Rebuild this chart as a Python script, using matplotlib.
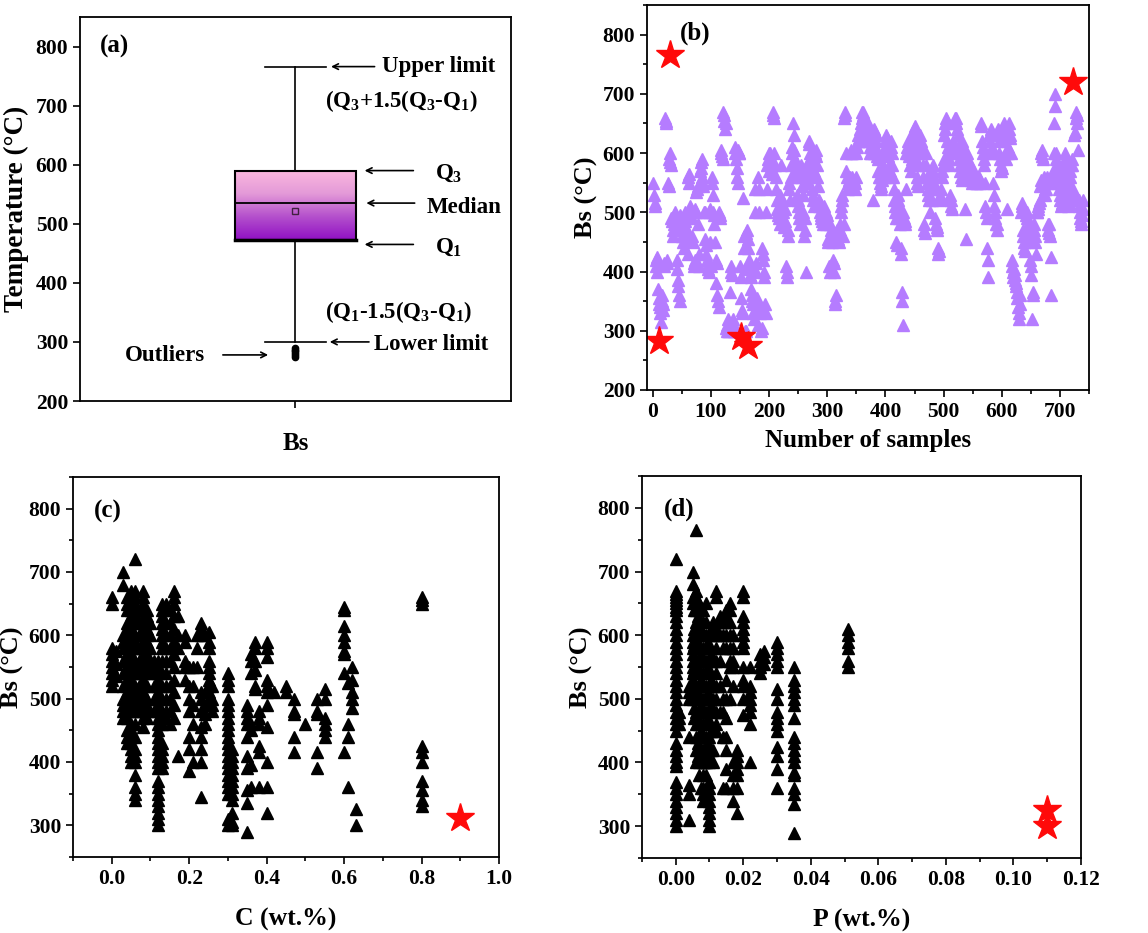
import numpy as np
import matplotlib
matplotlib.use("Agg")
import matplotlib.pyplot as plt
from matplotlib.colors import LinearSegmentedColormap
from matplotlib.ticker import MultipleLocator

plt.rcParams['font.family'] = ['Liberation Serif', 'DejaVu Serif']
plt.rcParams['font.weight'] = 'bold'
plt.rcParams['axes.labelweight'] = 'bold'
plt.rcParams['mathtext.fontset'] = 'custom'
plt.rcParams['mathtext.rm'] = 'Liberation Serif:bold'
plt.rcParams['mathtext.bf'] = 'Liberation Serif:bold'
plt.rcParams['mathtext.it'] = 'Liberation Serif:bold'

# (a) box plot statistics of Bs
box_q1 = 473
box_med = 535
box_q3 = 590
box_mean = 522
box_low = 300
box_high = 766
box_outliers = [290, 287, 284, 281, 278, 275]

# (b) Bs of every sample, in sample order
b_y = [
    550, 530, 515, 510, 420, 410, 425, 400, 370, 355, 345, 340, 330, 315, 360, 350, 335, 345, 410, 415,
    660, 655, 650, 415, 420, 550, 545, 590, 585, 600, 580, 490, 485, 470, 460, 480, 495, 500, 480, 470,
    420, 405, 385, 375, 360, 350, 495, 490, 480, 470, 460, 450, 440, 480, 485, 500, 490, 470, 455, 430,
    560, 550, 565, 510, 500, 505, 490, 460, 450, 415, 410, 420, 505, 500, 535, 540, 545, 480, 430, 410,
    570, 575, 585, 590, 560, 550, 545, 500, 500, 455, 445, 430, 420, 410, 405, 400, 500, 505, 450, 410,
    560, 550, 530, 500, 495, 480, 450, 420, 380, 415, 360, 350, 340, 500, 495, 490, 600, 605, 595, 590,
    670, 665, 655, 640, 650, 305, 300, 310, 300, 320, 300, 305, 365, 410, 400, 395, 320, 305, 300, 310,
    610, 600, 590, 575, 560, 550, 605, 600, 600, 410, 390, 355, 335, 330, 525, 460, 440, 405, 300, 300,
    465, 470, 455, 440, 420, 410, 395, 390, 370, 360, 350, 345, 330, 320, 540, 500, 415, 400, 355, 310,
    560, 540, 500, 340, 330, 300, 305, 440, 430, 420, 400, 390, 345, 330, 500, 540, 580, 590, 600, 570,
    600, 590, 580, 575, 565, 670, 665, 660, 600, 580, 560, 540, 520, 505, 495, 500, 490, 480, 530, 510,
    580, 520, 500, 490, 480, 475, 485, 505, 410, 400, 390, 470, 460, 550, 540, 520, 580, 560, 600, 610,
    650, 630, 605, 590, 570, 560, 580, 530, 520, 510, 500, 490, 480, 570, 580, 560, 545, 530, 500, 460,
    490, 470, 400, 560, 575, 585, 550, 620, 615, 600, 590, 580, 560, 540, 530, 520, 510, 570, 600, 605,
    595, 580, 560, 545, 520, 510, 515, 500, 495, 490, 485, 480, 505, 510, 500, 490, 480, 500, 495, 485,
    450, 455, 410, 400, 480, 470, 460, 450, 460, 420, 415, 400, 350, 345, 360, 470, 460, 455, 465, 450,
    480, 470, 500, 510, 520, 530, 460, 480, 660, 665, 670, 600, 570, 560, 550, 540, 545, 555, 560, 600,
    605, 600, 560, 550, 545, 555, 540, 550, 560, 600, 610, 620, 630, 620, 625, 630, 640, 650, 660, 670,
    670, 665, 655, 640, 630, 620, 625, 635, 645, 650, 640, 620, 610, 600, 600, 610, 620, 630, 520, 600,
    640, 635, 630, 620, 605, 595, 590, 570, 560, 550, 560, 540, 545, 555, 570, 580, 560, 600, 610, 620,
    630, 625, 615, 605, 595, 580, 570, 560, 620, 610, 600, 580, 560, 540, 520, 510, 500, 490, 450, 445,
    530, 520, 510, 490, 480, 440, 430, 365, 350, 310, 500, 490, 480, 485, 540, 600, 610, 620, 600, 595,
    600, 605, 580, 570, 590, 610, 620, 630, 640, 645, 600, 590, 580, 560, 550, 545, 600, 610, 620, 630,
    620, 610, 600, 580, 560, 480, 470, 465, 600, 580, 560, 550, 540, 530, 520, 500, 560, 570, 540, 520,
    580, 570, 560, 550, 540, 490, 480, 470, 475, 440, 430, 435, 530, 520, 525, 540, 560, 570, 580, 590,
    630, 640, 650, 660, 655, 620, 610, 600, 590, 580, 530, 520, 510, 505, 600, 610, 620, 650, 660, 655,
    660, 650, 640, 630, 610, 600, 590, 580, 570, 560, 555, 620, 610, 600, 590, 580, 505, 455, 560, 570,
    600, 590, 585, 575, 570, 560, 555, 560, 550, 555, 565, 570, 560, 555, 550, 560, 555, 550, 560, 555,
    560, 555, 550, 650, 645, 620, 610, 600, 590, 580, 550, 510, 500, 490, 440, 420, 390, 630, 620, 600,
    640, 635, 610, 600, 550, 530, 510, 500, 490, 480, 470, 480, 640, 630, 620, 600, 590, 580, 570, 575,
    630, 640, 650, 645, 635, 620, 600, 590, 505, 600, 610, 650, 640, 630, 625, 600, 420, 410, 400, 390,
    405, 395, 385, 380, 375, 365, 355, 340, 320, 330, 345, 360, 500, 510, 515, 470, 460, 450, 440, 435,
    500, 495, 500, 490, 480, 470, 460, 450, 420, 410, 395, 320, 360, 365, 480, 470, 460, 450, 430, 500,
    500, 505, 510, 515, 520, 545, 555, 600, 605, 595, 590, 560, 550, 540, 530, 540, 550, 560, 480, 470,
    480, 465, 460, 425, 360, 550, 560, 570, 600, 650, 680, 700, 600, 590, 580, 570, 560, 550, 540, 530,
    520, 510, 515, 550, 560, 570, 580, 590, 600, 560, 540, 530, 520, 510, 515, 550, 560, 570, 580, 590,
    580, 540, 535, 520, 630, 635, 660, 670, 665, 650, 605, 520, 510, 500, 490, 480, 485, 495, 505, 520,
]
b_x = np.arange(1, len(b_y) + 1)
b_star_x = [10, 30, 152, 163, 722]
b_star_y = [282, 766, 290, 275, 720]

# (c) Bs grouped by C content (wt.%)
c_groups = [
    (0.00, [660, 650, 580, 570, 560, 550, 540, 530, 520]),
    (0.01, [575, 555, 535]),
    (0.03, [700, 680, 600, 590, 580, 560, 540, 520, 500, 490, 480, 470]),
    (0.04, [660, 650, 640, 620, 610, 600, 590, 580, 570, 560, 550, 540, 530, 520, 510, 500, 490, 480, 470, 450, 440, 430]),
    (0.05, [670, 660, 650, 640, 630, 620, 610, 600, 590, 580, 570, 560, 550, 540, 530, 520, 510, 500, 490, 480, 460, 450, 440, 430, 420, 410, 400]),
    (0.06, [720, 670, 660, 650, 640, 630, 620, 600, 590, 580, 560, 550, 540, 520, 510, 500, 490, 480, 460, 440, 420, 410, 400, 380, 360, 350, 340]),
    (0.07, [640, 620, 600, 580, 560, 540, 520, 500, 490, 480]),
    (0.08, [670, 660, 650, 640, 630, 620, 610, 600, 590, 580, 570, 560, 550, 540, 530, 520, 510, 500, 490, 480, 470, 455]),
    (0.09, [640, 630, 620, 610, 600, 590, 580, 570, 560, 550, 540, 520, 500, 490, 480, 470]),
    (0.10, [620, 600, 580, 560, 550]),
    (0.11, [560, 540, 520, 500, 480]),
    (0.12, [560, 550, 540, 530, 520, 510, 500, 490, 480, 470, 460, 450, 440, 430, 420, 410, 400, 390, 370, 360, 350, 340, 330, 320, 310, 300]),
    (0.13, [650, 640, 630, 620, 610, 600, 590, 580, 560, 540, 520, 500, 480, 470, 460, 430, 420, 410, 400, 390]),
    (0.14, [650, 640, 620, 600, 580, 560, 540, 520, 500, 480, 470]),
    (0.15, [640, 620, 600, 580, 560, 520, 500, 480, 460]),
    (0.16, [670, 660, 650, 630, 610, 590, 570, 550, 530, 510, 490, 470]),
    (0.17, [630, 600, 580, 410]),
    (0.19, [600, 590, 560, 550, 530]),
    (0.20, [550, 520, 500, 480, 440, 420, 385]),
    (0.21, [550, 520, 490, 460, 400]),
    (0.22, [600, 580, 550]),
    (0.23, [620, 610, 600, 510, 500, 480, 455, 440, 420, 400, 345]),
    (0.24, [600, 510, 490, 475, 460]),
    (0.25, [605, 590, 580, 560, 550, 540, 530, 520, 510, 500, 490]),
    (0.26, [520, 500, 490, 480]),
    (0.30, [540, 530, 520, 500, 490, 480, 470, 460, 450, 440, 430, 420, 410, 400, 390, 380, 370, 360, 350, 310, 300]),
    (0.31, [420, 410, 400, 390, 380, 370, 360, 350, 340, 320, 305, 300]),
    (0.35, [490, 480, 470, 460, 440, 410, 390, 355, 335, 290]),
    (0.36, [570, 560, 540, 460, 450, 395, 360]),
    (0.37, [590, 580, 560, 545, 520, 515]),
    (0.38, [480, 470, 460, 425, 415, 360]),
    (0.40, [590, 580, 565, 530, 520, 510, 490, 455, 400, 360, 320]),
    (0.42, [510]),
    (0.45, [520, 510]),
    (0.47, [500, 480, 475, 440, 415]),
    (0.50, [460]),
    (0.53, [500, 480, 475, 415, 390]),
    (0.55, [515, 500, 470, 460, 450, 440]),
    (0.60, [645, 640, 615, 600, 590, 575, 570, 540, 415]),
    (0.61, [525, 460, 440, 360]),
    (0.62, [550, 530, 510, 500, 485]),
    (0.63, [325, 300]),
    (0.80, [660, 655, 650, 425, 415, 400, 370, 355, 340, 330]),
]
c_star_x = [0.90]
c_star_y = [312]

# (d) Bs grouped by P content (wt.%)
d_groups = [
    (0.000, [720, 670, 665, 660, 655, 650, 645, 640, 630, 620, 610, 600, 590, 580, 570, 560, 550, 540, 530, 520,
             510, 500, 490, 480, 470, 460, 450, 430, 420, 410, 400, 395, 370, 360, 350, 340, 330, 320, 310, 300]),
    (0.001, [480, 470, 460]),
    (0.004, [520, 510, 500, 440, 365, 350, 310]),
    (0.005, [700, 680, 660, 650, 600, 590, 580, 570, 560, 550, 540, 530, 520, 510, 500]),
    (0.0055, [640, 610, 585, 545, 505, 485, 470]),
    (0.006, [765, 670, 660, 640, 620, 600, 580, 560, 540, 520, 500, 480, 460, 440, 420, 400]),
    (0.0065, [630, 590, 550, 510, 470, 430, 410]),
    (0.007, [650, 640, 600, 580, 560, 540, 520, 500, 480, 460, 440, 420, 400, 380]),
    (0.0075, [610, 570, 530, 490, 450, 410, 360]),
    (0.008, [640, 620, 600, 580, 560, 540, 520, 500, 480, 460, 440, 420, 400, 380, 360, 350, 340]),
    (0.0085, [600, 560, 520, 480, 440, 420, 400]),
    (0.009, [650, 620, 600, 580, 560, 540, 520, 500, 480, 460, 440, 420, 400, 380, 360, 350]),
    (0.0095, [590, 550, 510, 470, 430, 410]),
    (0.010, [600, 580, 560, 540, 520, 500, 480, 460, 440, 420, 400, 370, 360, 350, 340, 330, 320, 310, 300]),
    (0.0105, [610, 570, 530, 490, 450, 420]),
    (0.011, [620, 600, 560, 520, 500, 450, 420, 400]),
    (0.012, [670, 660, 610, 600, 580, 560, 540, 520, 500, 480, 460, 450]),
    (0.013, [630, 620, 600, 560, 520, 480]),
    (0.014, [620, 600, 580, 500, 480, 440, 360]),
    (0.015, [640, 630, 620, 600, 580, 530, 500, 470, 440, 420, 390, 360]),
    (0.016, [650, 640, 620, 600, 580, 560, 550, 500]),
    (0.017, [600, 580, 560, 550, 520, 400, 380, 360, 340]),
    (0.018, [420, 410, 400, 390, 380, 360, 320]),
    (0.020, [670, 660, 630, 620, 610, 600, 590, 580, 550, 530, 520, 500, 475]),
    (0.022, [550, 520, 510, 500, 490, 480, 460, 400]),
    (0.025, [570, 560, 550, 540]),
    (0.026, [575, 565, 555]),
    (0.030, [590, 580, 570, 560, 550, 515, 500, 480, 470, 460, 450, 425, 410, 390, 360]),
    (0.035, [550, 530, 520, 510, 500, 490, 470, 440, 430, 420, 410, 400, 385, 380, 360, 350, 335, 290]),
    (0.051, [610, 600, 590, 580, 560, 550]),
]
d_star_x = [0.110, 0.110]
d_star_y = [325, 300]


def flatten(groups):
    xs, ys = [], []
    for x, vals in groups:
        xs += [x] * len(vals)
        ys += vals
    return xs, ys


def style_axes(ax):
    for s in ax.spines.values():
        s.set_linewidth(1.3)
    ax.tick_params(which='both', direction='out', top=False, right=False, labelsize=15.5, width=1.2)
    ax.tick_params(which='major', length=5)
    ax.tick_params(which='minor', length=3)


fig = plt.figure(figsize=(11.48, 9.33), dpi=100)
ax_a = fig.add_axes([0.0697, 0.5702, 0.3754, 0.4116])
ax_b = fig.add_axes([0.5636, 0.5820, 0.3850, 0.4126])
ax_c = fig.add_axes([0.0636, 0.0815, 0.3711, 0.4073])
ax_d = fig.add_axes([0.5592, 0.0804, 0.3824, 0.4094])

# ---- (a) ----
stats = [dict(med=box_med, q1=box_q1, q3=box_q3, whislo=box_low, whishi=box_high,
              mean=box_mean, fliers=box_outliers)]
bp = ax_a.bxp(stats, positions=[1], widths=0.28, capwidths=[0.14], patch_artist=True,
              showmeans=True, showfliers=True,
              boxprops=dict(facecolor='none', edgecolor='black', linewidth=1.5),
              medianprops=dict(color='black', linewidth=1.3),
              whiskerprops=dict(color='black', linewidth=1.2),
              capprops=dict(color='black', linewidth=1.2),
              meanprops=dict(marker='s', markersize=4, markerfacecolor='none',
                             markeredgecolor='#402040', markeredgewidth=1),
              flierprops=dict(marker='o', markersize=4.5, markerfacecolor='black',
                              markeredgecolor='black'))
# bottom of the box is deep purple, top is light pink
cmap = LinearSegmentedColormap.from_list('boxgrad', ['#9010c4', '#b450cc', '#e49ad8', '#fbb8de'])
grad = np.linspace(0, 1, 256).reshape(-1, 1)
img = ax_a.imshow(grad, cmap=cmap, aspect='auto', extent=[0.86, 1.14, box_q1, box_q3],
                  origin='lower', zorder=1)
img.set_clip_path(bp['boxes'][0])
bp['boxes'][0].set_zorder(2)
ax_a.plot([0.86, 1.14], [box_q1, box_q1], color='black', lw=2.5, zorder=3)

ax_a.set_xlim(0.5, 1.5)
ax_a.set_ylim(200, 850)
ax_a.set_yticks(range(200, 801, 100))
ax_a.set_xticks([1])
ax_a.set_xticklabels(['Bs'])
style_axes(ax_a)
ax_a.tick_params(axis='x', pad=17, labelsize=18)
ax_a.set_ylabel('Temperature (°C)', fontsize=19.5, labelpad=5)
ax_a.text(0.546, 800, '(a)', fontsize=18, va='center')

arrow = dict(arrowstyle='->', color='black', lw=1.2)
fs = 16.5
ax_a.annotate('', xy=(1.076, box_high), xytext=(1.19, box_high), arrowprops=arrow)
ax_a.text(1.20, box_high, 'Upper limit', fontsize=fs, va='center')
ax_a.text(1.068, 708, r'(Q$_{3}$+1.5(Q$_{3}$-Q$_{1}$)', fontsize=fs, va='center')
ax_a.annotate('', xy=(1.154, box_q3), xytext=(1.28, box_q3), arrowprops=arrow)
ax_a.text(1.324, 586, r'Q$_{3}$', fontsize=fs, va='center')
ax_a.annotate('', xy=(1.158, box_med), xytext=(1.283, box_med), arrowprops=arrow)
ax_a.text(1.305, 527, 'Median', fontsize=fs, va='center')
ax_a.annotate('', xy=(1.154, 465), xytext=(1.28, 465), arrowprops=arrow)
ax_a.text(1.324, 460, r'Q$_{1}$', fontsize=fs, va='center')
ax_a.text(1.068, 350, r'(Q$_{1}$-1.5(Q$_{3}$-Q$_{1}$)', fontsize=fs, va='center')
ax_a.annotate('', xy=(1.073, box_low), xytext=(1.177, box_low), arrowprops=arrow)
ax_a.text(1.182, 295, 'Lower limit', fontsize=fs, va='center')
ax_a.annotate('', xy=(0.943, 278), xytext=(0.825, 278), arrowprops=arrow)
ax_a.text(0.604, 277, 'Outliers', fontsize=fs, va='center')

# ---- (b) ----
ax_b.plot(b_x, b_y, linestyle='none', marker='^', markersize=8.5, color='#b57cff')
ax_b.plot(b_star_x, b_star_y, linestyle='none', marker='*', markersize=21, color='#ff0a0a')
ax_b.set_xlim(-10, 750)
ax_b.set_ylim(200, 850)
ax_b.set_yticks(range(200, 801, 100))
ax_b.set_xticks(range(0, 701, 100))
ax_b.xaxis.set_minor_locator(MultipleLocator(50))
ax_b.yaxis.set_minor_locator(MultipleLocator(50))
style_axes(ax_b)
ax_b.set_xlabel('Number of samples', fontsize=18, labelpad=5)
ax_b.set_ylabel('Bs (°C)', fontsize=19, labelpad=3)
ax_b.text(47, 803, '(b)', fontsize=18, va='center')

# ---- (c) ----
c_x, c_y = flatten(c_groups)
ax_c.plot(c_x, c_y, linestyle='none', marker='^', markersize=8, color='black')
ax_c.plot(c_star_x, c_star_y, linestyle='none', marker='*', markersize=21, color='#ff0a0a')
ax_c.set_xlim(-0.1, 1.0)
ax_c.set_ylim(250, 850)
ax_c.set_yticks(range(300, 801, 100))
ax_c.set_xticks(np.arange(0, 1.01, 0.2))
ax_c.xaxis.set_minor_locator(MultipleLocator(0.1))
ax_c.yaxis.set_minor_locator(MultipleLocator(50))
style_axes(ax_c)
ax_c.set_xlabel('C (wt.%)', fontsize=18.5, labelpad=14)
ax_c.set_ylabel('Bs (°C)', fontsize=19, labelpad=3)
ax_c.text(-0.047, 796, '(c)', fontsize=18, va='center')

# ---- (d) ----
d_x, d_y = flatten(d_groups)
ax_d.plot(d_x, d_y, linestyle='none', marker='^', markersize=8, color='black')
ax_d.plot(d_star_x, d_star_y, linestyle='none', marker='*', markersize=21, color='#ff0a0a')
ax_d.set_xlim(-0.01, 0.12)
ax_d.set_ylim(250, 850)
ax_d.set_yticks(range(300, 801, 100))
ax_d.set_xticks(np.arange(0, 0.121, 0.02))
ax_d.set_xticklabels(['0.00', '0.02', '0.04', '0.06', '0.08', '0.10', '0.12'])
ax_d.xaxis.set_minor_locator(MultipleLocator(0.01))
ax_d.yaxis.set_minor_locator(MultipleLocator(50))
style_axes(ax_d)
ax_d.set_xlabel('P (wt.%)', fontsize=18.5, labelpad=14)
ax_d.set_ylabel('Bs (°C)', fontsize=19, labelpad=3)
ax_d.text(-0.0035, 797, '(d)', fontsize=18, va='center')

fig.savefig('out.png', dpi=100)
